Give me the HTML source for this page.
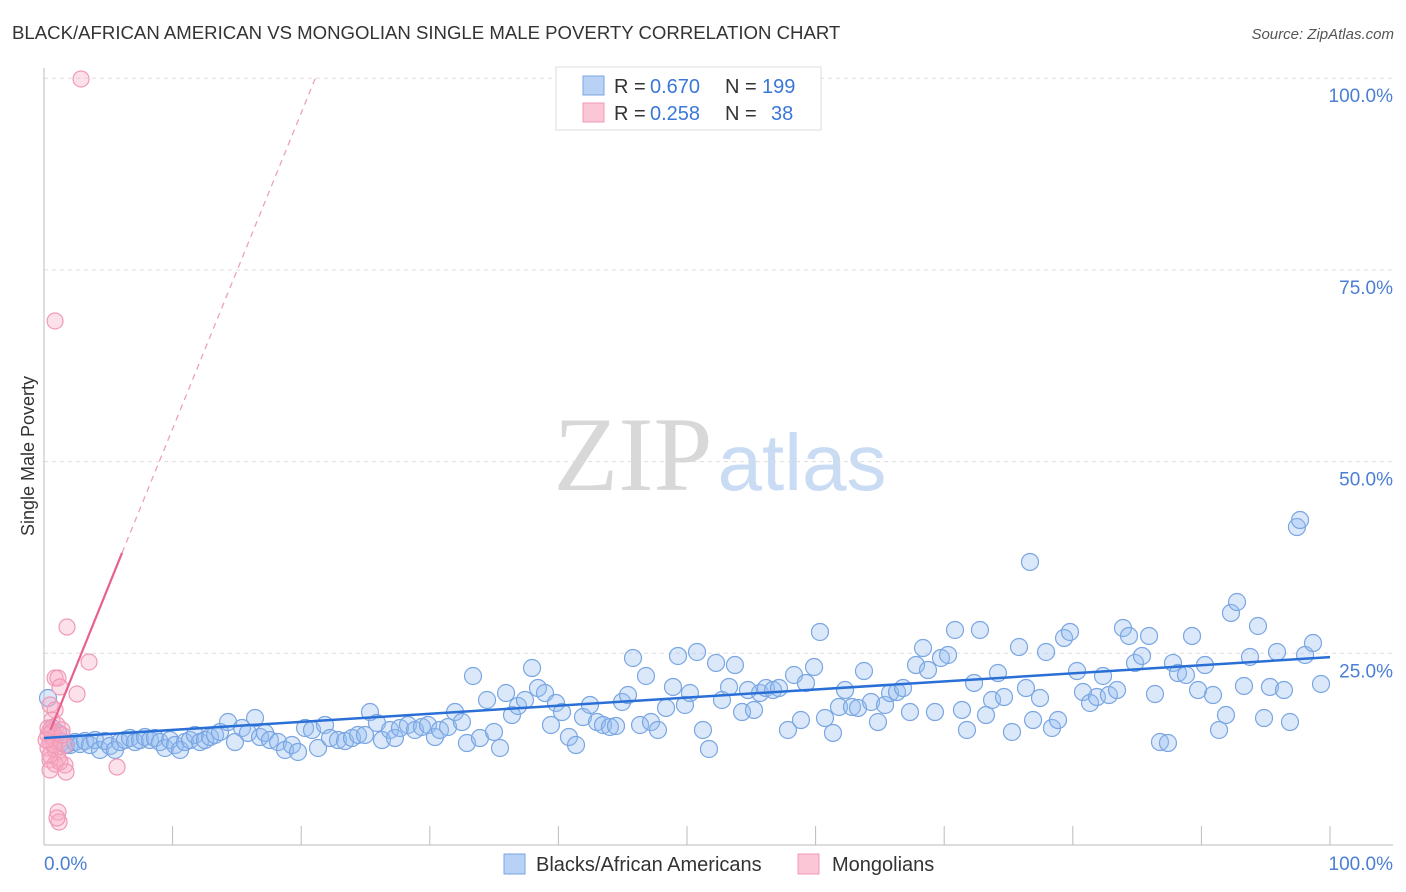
<!DOCTYPE html>
<html><head><meta charset="utf-8"><style>
body{margin:0;background:#fff;font-family:"Liberation Sans",sans-serif;}
svg{display:block}
</style></head><body>
<svg id="chart" width="1406" height="892" viewBox="0 0 1406 892" xmlns="http://www.w3.org/2000/svg">
<text x="12" y="39" font-size="18.6" fill="#333" font-family="Liberation Sans, sans-serif">BLACK/AFRICAN AMERICAN VS MONGOLIAN SINGLE MALE POVERTY CORRELATION CHART</text>
<text x="1394" y="39" font-size="15" fill="#555" text-anchor="end" font-style="italic">Source: ZipAtlas.com</text>
<g>
<text x="633" y="490" font-size="106" fill="#d8d8d8" text-anchor="middle" font-family="Liberation Serif, serif">ZIP</text>
<text x="802" y="490" font-size="80" fill="#c9dcf4" text-anchor="middle">atlas</text>
</g>
<g id="grid"></g>
<g id="axes"></g>
<g id="pts"></g>
<g id="lines"></g>
<text transform="translate(34,456) rotate(-90)" font-size="18" fill="#333" text-anchor="middle">Single Male Poverty</text>
<text x="44" y="870" font-size="19" fill="#4a7fd4">0.0%</text>
<text x="1393" y="870" font-size="19" fill="#4a7fd4" text-anchor="end">100.0%</text>
<g>
<rect x="556" y="67" width="265" height="63" fill="#fff" stroke="#ddd"/>
<rect x="583" y="76" width="21" height="19" fill="#b8d2f5" stroke="#7aa6e2"/>
<rect x="583" y="103" width="21" height="19" fill="#fbc7d6" stroke="#f09ab5"/>
<text y="93" font-size="20" fill="#333"><tspan x="614">R =</tspan><tspan x="650" fill="#3a78d8">0.670</tspan><tspan x="725">N =</tspan><tspan x="762" fill="#3a78d8">199</tspan></text>
<text y="120" font-size="20" fill="#333"><tspan x="614">R =</tspan><tspan x="650" fill="#3a78d8">0.258</tspan><tspan x="725">N =</tspan><tspan x="771" fill="#3a78d8">38</tspan></text>
</g>
<g>
<rect x="504" y="854" width="21" height="20" fill="#b8d2f5" stroke="#7aa6e2"/>
<text x="536" y="871" font-size="20" fill="#333">Blacks/African Americans</text>
<rect x="798" y="854" width="21" height="20" fill="#fbc7d6" stroke="#f09ab5"/>
<text x="832" y="871" font-size="20" fill="#333">Mongolians</text>
</g>
</svg>
<script>
const yTicks=[25,50,75,100];
const yTickLabels=["25.0%","50.0%","75.0%","100.0%"];
const xTicks=[0,10,20,30,40,50,60,70,80,90,100];
const bluePx=[[48,698],[52,728],[58,733],[62,742],[66,745],[70,745],[75,742],[80,744],[85,741],[90,745],[95,740],[100,750],[105,741],[110,746],[115,750],[120,742],[125,740],[130,738],[135,742],[140,740],[145,737],[150,740],[155,738],[160,742],[165,748],[170,740],[175,745],[180,750],[185,742],[190,740],[195,735],[200,742],[205,740],[210,737],[215,735],[220,732],[228,722],[235,742],[242,728],[248,733],[255,718],[260,737],[265,733],[270,740],[278,742],[285,750],[292,745],[298,752],[305,728],[312,730],[318,748],[325,725],[330,738],[338,740],[345,741],[352,738],[358,735],[365,735],[370,712],[377,723],[382,740],[390,730],[395,738],[400,728],[408,725],[415,730],[422,727],[428,725],[435,737],[440,730],[448,727],[455,712],[462,722],[467,743],[473,676],[480,738],[487,700],[494,732],[500,748],[506,693],[512,715],[518,706],[525,700],[532,668],[538,688],[545,693],[551,725],[556,703],[562,712],[569,737],[576,745],[583,717],[590,705],[597,722],[603,725],[610,727],[616,726],[622,702],[628,695],[633,658],[640,725],[646,676],[651,722],[658,730],[666,708],[673,687],[678,656],[685,705],[690,693],[697,652],[703,730],[709,749],[716,663],[722,700],[729,687],[735,665],[742,712],[748,690],[754,710],[760,693],[766,688],[773,690],[779,688],[788,730],[794,675],[801,720],[806,683],[814,667],[820,632],[825,718],[833,733],[839,707],[845,690],[852,707],[858,708],[864,671],[871,702],[878,722],[885,705],[890,693],[897,692],[903,688],[910,712],[916,665],[923,648],[928,670],[935,712],[941,658],[948,655],[955,630],[962,710],[967,730],[974,683],[980,630],[986,715],[992,700],[998,673],[1004,697],[1012,732],[1019,647],[1026,688],[1033,720],[1040,698],[1046,652],[1052,728],[1058,720],[1064,638],[1070,632],[1077,671],[1083,692],[1090,703],[1097,697],[1103,676],[1109,695],[1117,690],[1123,628],[1129,636],[1135,663],[1142,656],[1149,636],[1155,694],[1160,742],[1168,743],[1173,663],[1178,673],[1186,675],[1192,636],[1198,690],[1205,665],[1213,695],[1219,730],[1226,715],[1231,613],[1237,602],[1244,686],[1250,657],[1258,626],[1264,718],[1270,687],[1277,652],[1284,690],[1290,722],[1297,527],[1300,520],[1305,655],[1313,643],[1321,684],[1030,562]];
const pinkPx=[[81,79],[55,321],[67,627],[89,662],[55,678],[58,678],[77,694],[60,687],[50,705],[55,710],[52,720],[57,725],[50,730],[48,735],[53,738],[50,742],[48,748],[55,750],[60,740],[65,745],[58,758],[50,760],[65,765],[55,764],[50,770],[60,762],[66,772],[117,767],[58,812],[59,822],[57,818],[48,728],[52,732],[62,730],[50,755],[54,745],[62,735],[46,740]];
// data values (percent)
const blueX=bluePx.map(p=>+((p[0]-44)/12.86).toFixed(2));
const blueY=bluePx.map(p=>+((845-p[1])/7.668).toFixed(2));
const pinkX=pinkPx.map(p=>+((p[0]-44)/12.86).toFixed(2));
const pinkY=pinkPx.map(p=>+((845-p[1])/7.668).toFixed(2));
const blueTrend=[[0,13.95],[100,24.5]];
const pinkTrend=[[0.5,15.0],[6.07,38.1],[21.1,100]];

const X=v=>44+v*12.86, Y=v=>845-v*7.668;
const NS="http://www.w3.org/2000/svg";
function mk(tag,attrs,parent){const e=document.createElementNS(NS,tag);for(const k in attrs)e.setAttribute(k,attrs[k]);parent.appendChild(e);return e;}
const grid=document.getElementById('grid'),axes=document.getElementById('axes'),pts=document.getElementById('pts'),lines=document.getElementById('lines'),svg=document.getElementById('chart');
yTicks.forEach((t,i)=>{
 const l=mk('line',{x1:44,x2:1393,y1:Y(t),y2:Y(t),stroke:'#ddd','stroke-dasharray':'4,4'},grid);
 
 
 const tx=mk('text',{x:1393,y:Y(t)+24,'font-size':19,fill:'#4a7fd4','text-anchor':'end'},svg);
 tx.textContent=yTickLabels[i];
 
 
});
const ya=mk('line',{x1:44,x2:44,y1:68,y2:845,stroke:'#bbb'},axes);


const xa=mk('line',{x1:44,x2:1393,y1:845,y2:845,stroke:'#bbb'},axes);


xTicks.forEach(t=>{
 const l=mk('line',{x1:X(t),x2:X(t),y1:826,y2:845,stroke:'#bbb'},axes);
 
 
});
blueX.forEach((x,i)=>{
 const c=mk('circle',{cx:X(x),cy:Y(blueY[i]),r:8.5,fill:'rgba(150,190,240,0.35)',stroke:'#7aa6e2','stroke-width':1.2},pts);
 
 
});
pinkX.forEach((x,i)=>{
 const c=mk('circle',{cx:X(x),cy:Y(pinkY[i]),r:8,fill:'rgba(248,170,195,0.35)',stroke:'#f09ab5','stroke-width':1.2},pts);
 
 
});
const bl=mk('line',{x1:X(blueTrend[0][0]),y1:Y(blueTrend[0][1]),x2:X(blueTrend[1][0]),y2:Y(blueTrend[1][1]),stroke:'#2a6fd6','stroke-width':2.5},lines);


const ps=mk('line',{x1:X(pinkTrend[0][0]),y1:Y(pinkTrend[0][1]),x2:X(pinkTrend[1][0]),y2:Y(pinkTrend[1][1]),stroke:'#e8608f','stroke-width':2.2},lines);


const pd=mk('line',{x1:X(pinkTrend[1][0]),y1:Y(pinkTrend[1][1]),x2:X(pinkTrend[2][0]),y2:Y(pinkTrend[2][1]),stroke:'#f0a0ba','stroke-width':1.3,'stroke-dasharray':'6,5'},lines);


</script>
</body></html>
